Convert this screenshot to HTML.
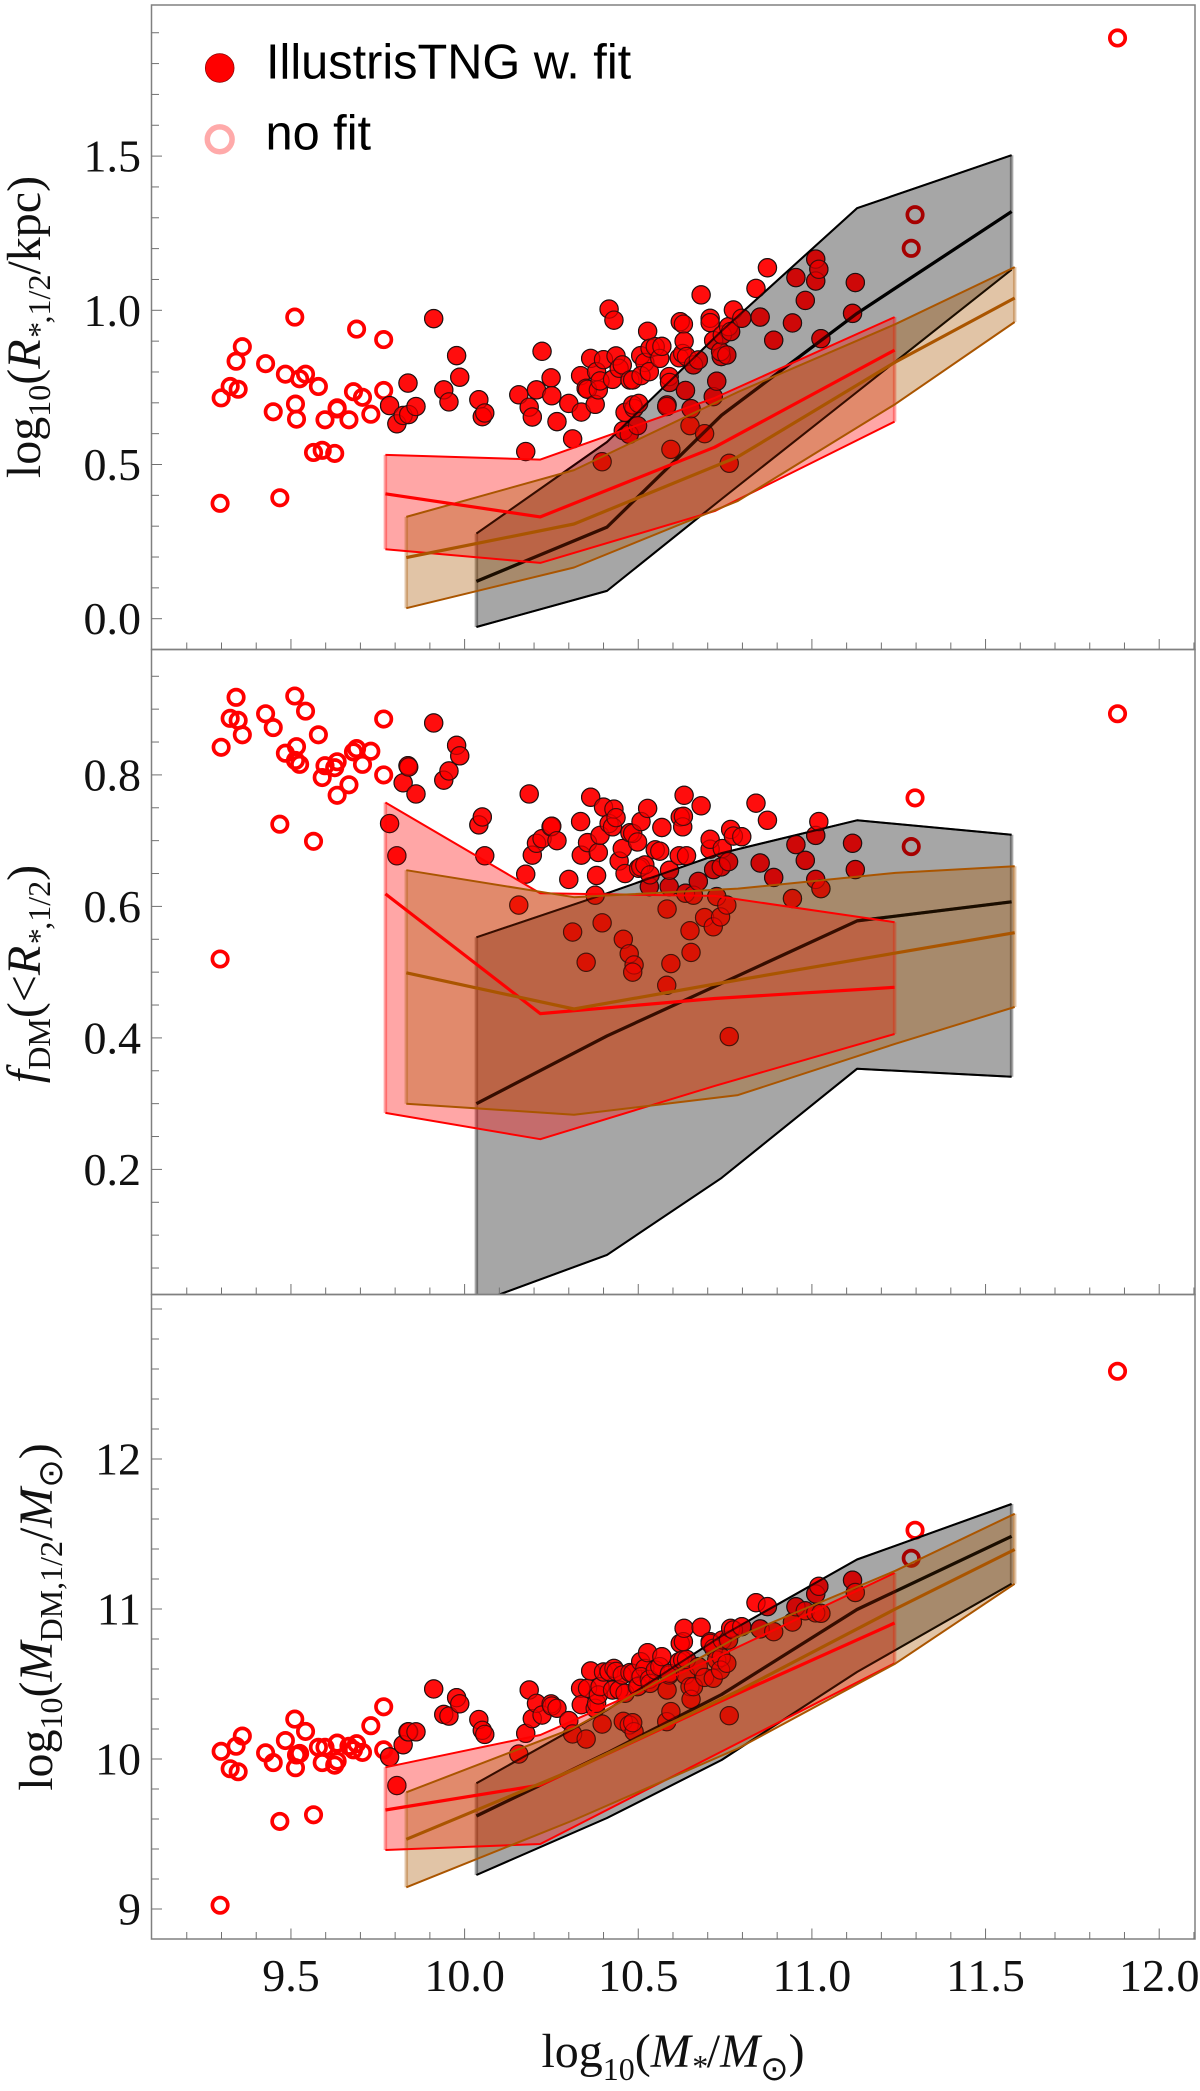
<!DOCTYPE html>
<html lang="en">
<head>
<meta charset="utf-8">
<title>IllustrisTNG galaxy scaling relations</title>
<style>
html,body{margin:0;padding:0;background:#fff;}
svg{display:block;}
text{font-family:"Liberation Serif","DejaVu Serif",serif;fill:#111;}
.legend-text{font-family:"Liberation Sans",sans-serif;font-size:48.7px;fill:#000;}
.tick-label{font-size:46px;}
.axis-title{font-size:48px;}
.sub{font-size:32px;}
.it{font-style:italic;}
.sun{font-family:"DejaVu Sans",sans-serif;font-size:34px;}
</style>
</head>
<body>
<svg id="chart" xmlns="http://www.w3.org/2000/svg" width="1200" height="2091" viewBox="0 0 1200 2091">
  <defs>
    <clipPath id="clip-r12"><rect x="151.5" y="5" width="1043.5" height="644.5"/></clipPath>
    <clipPath id="clip-fdm"><rect x="151.5" y="649.5" width="1043.5" height="645"/></clipPath>
    <clipPath id="clip-mdm"><rect x="151.5" y="1294.5" width="1043.5" height="644.5"/></clipPath>
  </defs>
  <rect x="0" y="0" width="1200" height="2091" fill="#fff"/>
  <g id="panels"></g>

  <text class="axis-title" transform="translate(40,327) rotate(-90)" text-anchor="middle">log<tspan class="sub" dy="10">10</tspan><tspan dy="-10">(</tspan><tspan class="it">R</tspan><tspan class="sub" dy="10"><tspan class="it">*</tspan>,1/2</tspan><tspan dy="-10">/kpc)</tspan></text>
  <text class="axis-title" transform="translate(40,974) rotate(-90)" text-anchor="middle"><tspan class="it">f</tspan><tspan class="sub" dy="10">DM</tspan><tspan dy="-10">(&lt;</tspan><tspan class="it">R</tspan><tspan class="sub" dy="10"><tspan class="it">*</tspan>,1/2</tspan><tspan dy="-10">)</tspan></text>
  <text class="axis-title" transform="translate(52,1617) rotate(-90)" text-anchor="middle">log<tspan class="sub" dy="10">10</tspan><tspan dy="-10">(</tspan><tspan class="it">M</tspan><tspan class="sub" dy="10">DM,1/2</tspan><tspan dy="-10">/</tspan><tspan class="it">M</tspan><tspan class="sun" dy="10">⊙</tspan><tspan dy="-10">)</tspan></text>
  <text class="axis-title" x="673" y="2067" text-anchor="middle">log<tspan class="sub" dy="13">10</tspan><tspan dy="-13">(</tspan><tspan class="it">M</tspan><tspan class="sub it" dy="10">*</tspan><tspan dy="-10">/</tspan><tspan class="it">M</tspan><tspan class="sun" dy="13">⊙</tspan><tspan dy="-13">)</tspan></text>

  <g>
    <circle cx="219.7" cy="68" r="14.4" fill="#f00" stroke="#800" stroke-width="0.7"/>
    <text class="legend-text" x="266" y="78.7">IllustrisTNG w. fit</text>
    <circle cx="219.7" cy="139.3" r="12.4" fill="none" stroke="#ffaaaa" stroke-width="5.5"/>
    <text class="legend-text" x="265.5" y="149.4">no fit</text>
  </g>
</svg>

<script>
// Shared stellar mass values
const massFit = [9.784,9.805,9.823,9.837,9.839,9.860,9.911,9.940,9.955,9.977,9.986,10.041,10.051,10.058,
10.156,10.176,10.186,10.195,10.207,10.223,10.249,10.251,10.266,10.300,10.311,10.334,10.336,10.350,10.354,10.363,10.376,10.380,10.385,10.390,
10.396,10.400,10.416,10.426,10.430,10.436,10.445,10.454,10.457,10.462,10.474,10.476,10.484,10.488,10.484,10.501,10.498,10.507,10.519,10.508,
10.527,10.532,10.534,10.549,10.562,10.568,10.583,10.582,10.589,10.590,10.594,10.618,10.621,10.628,10.630,10.632,10.636,10.639,10.649,10.652,
10.659,10.673,10.681,10.691,10.707,10.707,10.717,10.716,10.726,10.739,10.737,10.742,10.755,10.762,10.760,10.766,10.774,10.798,10.839,10.851,10.872,10.890,
10.944,10.954,10.981,11.011,11.011,11.020,11.026,11.117,11.125];
const r12Fit = [.691,.632,.659,.764,.662,.688,.973,.742,.703,.853,.783,.710,.655,.667,
.726,.542,.686,.654,.742,.867,.781,.723,.639,.698,.583,.788,.670,.747,.744,.844,.695,.801,.742,.771,
.509,.840,1.004,.776,.968,.852,.812,.823,.610,.669,.598,.774,.774,.682,.693,.698,.626,.853,.831,.788,
.932,.801,.877,.882,.844,.883,.693,.688,.785,.766,.549,.846,.963,.860,.955,.900,.740,.850,.626,.681,
.823,.839,1.050,.600,.974,.960,.902,.720,.770,.850,.866,.920,.855,.504,.947,.931,1.001,.974,1.071,.978,1.138,.903,
.959,1.106,1.032,1.095,1.166,1.133,.908,.990,1.090];
const fdmFit = [.726,.677,.788,.814,.812,.771,.879,.792,.806,.845,.829,.724,.736,.677,
.602,.649,.771,.678,.696,.703,.721,.722,.700,.641,.561,.729,.678,.515,.697,.766,.617,.647,.682,.708,
.575,.751,.726,.721,.748,.735,.669,.688,.550,.650,.528,.712,.711,.511,.500,.658,.698,.660,.663,.729,
.749,.630,.648,.686,.684,.720,.596,.480,.630,.655,.513,.677,.736,.721,.737,.769,.620,.677,.563,.530,
.617,.638,.753,.583,.687,.702,.656,.569,.615,.660,.584,.688,.602,.402,.668,.717,.707,.706,.757,.666,.731,.644,
.612,.694,.670,.641,.708,.729,.627,.696,.656];
const mdmFit = [10.014,9.823,10.095,10.181,10.181,10.181,10.467,10.297,10.286,10.409,10.368,10.263,10.191,10.164,
10.033,10.171,10.460,10.269,10.371,10.293,10.367,10.353,10.338,10.256,10.167,10.471,10.362,10.133,10.471,10.587,10.338,10.371,10.427,10.482,
10.233,10.580,10.582,10.460,10.604,10.584,10.460,10.560,10.251,10.438,10.227,10.576,10.571,10.182,10.242,10.487,10.482,10.649,10.604,10.549,
10.709,10.531,10.504,10.593,10.616,10.682,10.460,10.249,10.560,10.571,10.316,10.649,10.771,10.660,10.782,10.871,10.560,10.664,10.482,10.398,
10.482,10.616,10.878,10.544,10.782,10.771,10.738,10.538,10.660,10.678,10.593,10.793,10.638,10.289,10.793,10.871,10.860,10.882,11.042,10.867,11.016,10.849,
10.913,11.015,10.988,10.974,11.100,11.151,10.971,11.192,11.110];

const massNoFit = [9.296,9.299,9.325,9.342,9.348,9.360,9.427,9.449,9.468,9.484,9.511,9.513,9.516,9.525,9.542,9.565,9.579,9.590,9.598,9.626,9.633,9.633,9.667,9.680,9.689,9.706,9.730,9.767,9.767,11.286,11.297,11.880];
const r12NoFit = [.374,.716,.753,.835,.744,.882,.827,.671,.392,.793,.978,.696,.647,.778,.793,.539,.753,.546,.645,.536,.684,.680,.645,.736,.939,.718,.663,.905,.740,1.201,1.310,1.883];
const fdmNoFit = [.520,.842,.886,.918,.883,.861,.893,.872,.725,.833,.920,.822,.843,.816,.897,.699,.861,.796,.814,.811,.820,.769,.785,.835,.840,.816,.836,.885,.800,.691,.765,.893];
const mdmNoFit = [9.025,10.051,9.935,10.085,9.915,10.153,10.041,9.976,9.584,10.123,10.266,9.942,10.027,10.037,10.184,9.628,10.078,9.976,10.078,9.959,10.106,9.986,10.085,10.061,10.102,10.044,10.222,10.348,10.061,11.338,11.525,12.585];

// Model band knots
const blackMass = [10.034,10.41,10.74,11.13,11.575];
const redMass = [9.772,10.218,10.72,11.238];
const brownMass = [9.832,10.315,10.787,11.24,11.584];

const r12BlackTop = [.276,.573,.933,1.331,1.503];
const r12BlackMid = [.121,.297,.66,.99,1.32];
const r12BlackLow = [-.027,.09,.388,.735,1.132];
const r12RedTop = [.531,.516,.716,.978];
const r12RedMid = [.405,.33,.556,.871];
const r12RedLow = [.225,.181,.349,.639];
const r12BrownTop = [.33,.482,.735,.955,1.14];
const r12BrownMid = [.198,.307,.525,.832,1.04];
const r12BrownLow = [.034,.166,.382,.696,.962];

const fdmBlackTop = [.553,.62,.681,.731,.709];
const fdmBlackMid = [.3,.403,.483,.578,.607];
const fdmBlackLow = [-.003,.07,.187,.353,.341];
const fdmRedTop = [.758,.62,.616,.576];
const fdmRedMid = [.619,.437,.46,.477];
const fdmRedLow = [.286,.246,.327,.406];
const fdmBrownTop = [.655,.614,.627,.651,.661];
const fdmBrownMid = [.499,.444,.488,.529,.56];
const fdmBrownLow = [.3,.283,.313,.391,.447];

const mdmBlackTop = [9.838,10.327,10.82,11.33,11.7];
const mdmBlackMid = [9.62,10.04,10.43,10.997,11.485];
const mdmBlackLow = [9.227,9.607,9.993,10.58,11.168];
const mdmRedTop = [9.945,10.16,10.673,11.24];
const mdmRedMid = [9.66,9.827,10.367,10.907];
const mdmRedLow = [9.393,9.433,10.027,10.638];
const mdmBrownTop = [9.778,10.207,10.815,11.255,11.635];
const mdmBrownMid = [9.465,9.93,10.453,11.0,11.397];
const mdmBrownLow = [9.145,9.593,10.07,10.636,11.168];

// Tick labels
const xTickLabels = ["9.5","10.0","10.5","11.0","11.5","12.0"];
const r12TickLabels = ["0.0","0.5","1.0","1.5"];
const fdmTickLabels = ["0.2","0.4","0.6","0.8"];
const mdmTickLabels = ["9","10","11","12"];

const SVGNS = "http://www.w3.org/2000/svg";
const FRAME_LEFT = 151.5, FRAME_RIGHT = 1195;

function xScale(v){ return 464.6 + (v - 10) * 347.3; }
function yR12(v){ return 618.7 - v * 308.4; }
function yFdm(v){ return 1169.4 - (v - 0.2) * 657.5; }
function yMdm(v){ return 1759 - (v - 10) * 150; }

function mk(parent, tag, attrs){
  const el = document.createElementNS(SVGNS, tag);
  for (const k in attrs) el.setAttribute(k, attrs[k]);
  parent.appendChild(el);
  return el;
}
function pts(xs, ys, y){
  return xs.map(function(x, i){ return xScale(x).toFixed(1) + "," + y(ys[i]).toFixed(1); });
}

function drawBandFill(g, label, xs, top, low, y, color){
  const t = pts(xs, top, y), l = pts(xs, low, y);
  const fill = mk(g, "polygon", {points: t.concat(l.slice().reverse()).join(" "), fill: color, "fill-opacity": .35, stroke: "none"});
  
  
  const leftEdge = mk(g, "polyline", {points: t[0] + " " + l[0], fill: "none", stroke: color, "stroke-width": 3.5, "stroke-opacity": .35});
  
  
  const rightEdge = mk(g, "polyline", {points: t[t.length-1] + " " + l[l.length-1], fill: "none", stroke: color, "stroke-width": 3.5, "stroke-opacity": .35});
  
  
}
function drawBandEdges(g, label, xs, top, low, y, color, opacity){
  const topEdge = mk(g, "polyline", {points: pts(xs, top, y).join(" "), fill: "none", stroke: color, "stroke-width": 2, "stroke-opacity": opacity, "stroke-linejoin": "round"});
  
  
  const lowEdge = mk(g, "polyline", {points: pts(xs, low, y).join(" "), fill: "none", stroke: color, "stroke-width": 2, "stroke-opacity": opacity, "stroke-linejoin": "round"});
  
  
}
function drawLine(g, label, xs, mid, y, color, opacity){
  const line = mk(g, "polyline", {points: pts(xs, mid, y).join(" "), fill: "none", stroke: color, "stroke-width": 3.2, "stroke-opacity": opacity, "stroke-linejoin": "round"});
  
  
}

function drawAxes(g, key, bottom, top, y, yStart, yEnd, yStep, majorEvery, majorStart, labels, labelValues, showXLabels){
  const frame = mk(g, "rect", {x: FRAME_LEFT, y: top, width: FRAME_RIGHT - FRAME_LEFT, height: bottom - top, fill: "none", stroke: "#808080", "stroke-width": 1.5});
  
  
  for (let i = 0; i <= 29; i++){
    const v = 9.2 + i * 0.1;
    const major = i % 5 === 3;
    const px = xScale(v);
    const tick = mk(g, "line", {x1: px, x2: px, y1: bottom, y2: bottom - (major ? 10.5 : 7), stroke: "#707070", "stroke-width": 1});
    
    
  }
  const n = Math.round((yEnd - yStart) / yStep);
  for (let i = 0; i <= n; i++){
    const v = yStart + i * yStep;
    const major = Math.abs(((v - majorStart) / majorEvery) - Math.round((v - majorStart) / majorEvery)) < 1e-6;
    const py = y(v);
    const tick = mk(g, "line", {x1: FRAME_LEFT, x2: FRAME_LEFT + (major ? 10.5 : 7.5), y1: py, y2: py, stroke: "#707070", "stroke-width": 1});
    
    
  }
  labels.forEach(function(text, i){
    const t = mk(g, "text", {x: 141, y: y(labelValues[i]) + 15.5, "text-anchor": "end", class: "tick-label"});
    t.textContent = text;
    
    
  });
  if (showXLabels){
    xTickLabels.forEach(function(text){
      const t = mk(g, "text", {x: xScale(parseFloat(text)), y: 1991, "text-anchor": "middle", class: "tick-label"});
      t.textContent = text;
      
      
    });
  }
}

function drawPanel(cfg){
  const root = document.getElementById("panels");
  const g = mk(root, "g", {});
  
  

  const pg = mk(g, "g", {});
  
  
  massNoFit.forEach(function(m, i){
    const c = mk(pg, "circle", {cx: xScale(m), cy: cfg.y(cfg.noFit[i]), r: 7.7, fill: "none", stroke: "#f00", "stroke-width": 3.7});
    
    
  });
  massFit.forEach(function(m, i){
    const c = mk(pg, "circle", {cx: xScale(m), cy: cfg.y(cfg.fit[i]), r: 9.1, fill: "#f00", "fill-opacity": .9, stroke: "#111", "stroke-width": 1.2});
    
    
  });

  const bands = mk(g, "g", {"clip-path": "url(#" + cfg.clip + ")"});
  
  
  drawBandFill(bands, "black", blackMass, cfg.blackTop, cfg.blackLow, cfg.y, "#000");
  drawBandEdges(bands, "black", blackMass, cfg.blackTop, cfg.blackLow, cfg.y, "#000", 1);
  drawLine(bands, "black", blackMass, cfg.blackMid, cfg.y, "#000", 1);
  drawBandFill(bands, "red", redMass, cfg.redTop, cfg.redLow, cfg.y, "#f00");
  drawBandFill(bands, "brown", brownMass, cfg.brownTop, cfg.brownLow, cfg.y, "#aa5500");

  // Filled markers read brighter through the bands than a plain overlay gives.
  const glow = mk(bands, "g", {});
  
  
  massFit.forEach(function(m, i){
    const c = mk(glow, "circle", {cx: xScale(m), cy: cfg.y(cfg.fit[i]), r: 9.1, fill: "#f00", "fill-opacity": .45, stroke: "#111", "stroke-width": 1.1, "stroke-opacity": .6});
    
    
  });

  drawBandEdges(bands, "black-shade", blackMass, cfg.blackTop, cfg.blackLow, cfg.y, "#000", .55);
  drawLine(bands, "black-shade", blackMass, cfg.blackMid, cfg.y, "#000", .55);
  drawBandEdges(bands, "red", redMass, cfg.redTop, cfg.redLow, cfg.y, "#f00", 1);
  drawBandEdges(bands, "brown", brownMass, cfg.brownTop, cfg.brownLow, cfg.y, "#aa5500", 1);
  drawLine(bands, "red", redMass, cfg.redMid, cfg.y, "#f00", 1);
  drawLine(bands, "brown", brownMass, cfg.brownMid, cfg.y, "#aa5500", 1);

  drawAxes(g, cfg.key, cfg.bottom, cfg.top, cfg.y, cfg.tStart, cfg.tEnd, cfg.tStep, cfg.mEvery, cfg.mStart, cfg.labels, cfg.labelValues, cfg.xLabels);
}

drawPanel({key:"radius", clip:"clip-r12", top:5, bottom:649.5, y:yR12, fit:r12Fit, noFit:r12NoFit,
  blackTop:r12BlackTop, blackMid:r12BlackMid, blackLow:r12BlackLow, redTop:r12RedTop, redMid:r12RedMid, redLow:r12RedLow,
  brownTop:r12BrownTop, brownMid:r12BrownMid, brownLow:r12BrownLow,
  tStart:0, tEnd:1.9, tStep:.1, mEvery:.5, mStart:0, labels:r12TickLabels, labelValues:r12TickLabels.map(Number), xLabels:false});
drawPanel({key:"fraction", clip:"clip-fdm", top:649.5, bottom:1294.5, y:yFdm, fit:fdmFit, noFit:fdmNoFit,
  blackTop:fdmBlackTop, blackMid:fdmBlackMid, blackLow:fdmBlackLow, redTop:fdmRedTop, redMid:fdmRedMid, redLow:fdmRedLow,
  brownTop:fdmBrownTop, brownMid:fdmBrownMid, brownLow:fdmBrownLow,
  tStart:.05, tEnd:.95, tStep:.05, mEvery:.2, mStart:.2, labels:fdmTickLabels, labelValues:fdmTickLabels.map(Number), xLabels:false});
drawPanel({key:"mass", clip:"clip-mdm", top:1294.5, bottom:1939, y:yMdm, fit:mdmFit, noFit:mdmNoFit,
  blackTop:mdmBlackTop, blackMid:mdmBlackMid, blackLow:mdmBlackLow, redTop:mdmRedTop, redMid:mdmRedMid, redLow:mdmRedLow,
  brownTop:mdmBrownTop, brownMid:mdmBrownMid, brownLow:mdmBrownLow,
  tStart:9, tEnd:13, tStep:.2, mEvery:1, mStart:9, labels:mdmTickLabels, labelValues:mdmTickLabels.map(Number), xLabels:true});
</script>
</body>
</html>
